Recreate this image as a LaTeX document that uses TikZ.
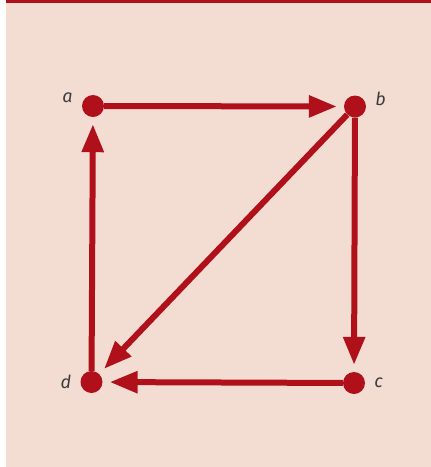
\documentclass[tikz,border=0pt]{standalone}
\usepackage{fontspec}
\usepackage{tikz}
\usepackage{xcolor}
\usetikzlibrary{arrows.meta, positioning}
\newfontfamily\labelfont{Fira Sans}
\definecolor{Fig_Red}{HTML}{B0101A}
\definecolor{Fig_Pink}{HTML}{F3DDD3}
\definecolor{Fig_Gray}{HTML}{3C3C3C}

\begin{document}
\begin{tikzpicture}[x=1pt, y=-1pt,
    vertex/.style={circle, fill=Fig_Red, inner sep=0pt, minimum size=22pt},
    lab/.style={Fig_Gray, inner sep=0pt, font=\labelfont\itshape\fontsize{18}{18}\selectfont},
    edge/.style={Fig_Red, line width=6pt, -{Triangle[length=28pt, width=21pt]}, shorten >=7pt},
    label distance=9pt]
    % background and top rule
    \useasboundingbox (0,0) rectangle (431,467);
    \fill[Fig_Pink] (6,0) rectangle (431,467);
    \fill[Fig_Red] (6,0) rectangle (431,3);

    % vertices
    \node[vertex, label={[lab, yshift=8pt]left:a}] (a) at (93,106) {};
    \node[vertex, label={[lab, yshift=8pt]right:b}] (b) at (355,106.5) {};
    \node[vertex, label={[lab]right:c}] (c) at (354,383) {};
    \node[vertex, label={[lab]left:d}] (d) at (91.5,382) {};

    % edges
    \draw[edge] (a) -- (b);
    \draw[edge] (b) -- (c);
    \draw[edge] (c) -- (d);
    \draw[edge] (d) -- (a);
    \draw[edge] (b) -- (d);
\end{tikzpicture}
\end{document}
